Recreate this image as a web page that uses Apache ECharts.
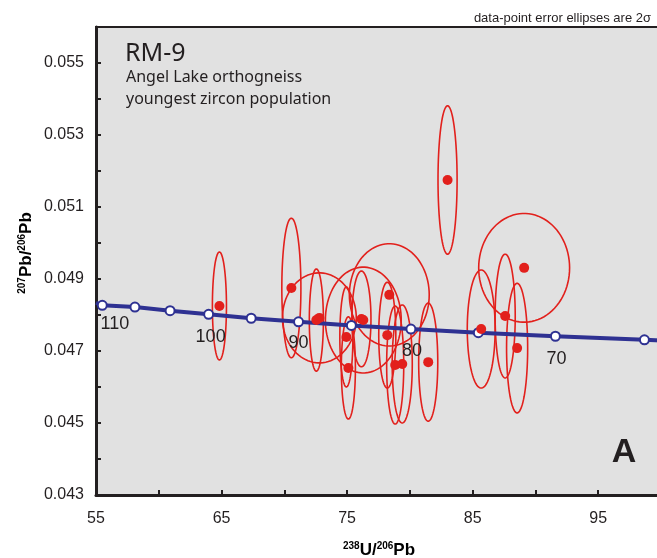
<!DOCTYPE html>
<html>
<head>
<meta charset="utf-8">
<script src="https://cdn.jsdelivr.net/npm/echarts@6/dist/echarts.min.js"></script>
<style>
  html, body { margin: 0; padding: 0; background: #fff; overflow: hidden; }
  /* the plot runs past the right edge of the window, as in the original figure */
  #chart { width: 664px; height: 558px; }
</style>
</head>
<body>
<div id="chart"></div>
<script>
// concordia curve (238U/206Pb vs 207Pb/206Pb)
var curveX = [55, 55.50, 58.10, 60.90, 63.97, 67.36, 71.13, 75.34, 80.08, 85.45, 91.59, 98.68, 100];
var curveY = [0.04834, 0.04827, 0.04822, 0.04812, 0.04802, 0.04791, 0.04781, 0.04771, 0.04761, 0.04751, 0.04741, 0.04731, 0.04729];

// age marks on the concordia (Ma)
var ages = [115, 110, 105, 100, 95, 90, 85, 80, 75, 70, 65];
var ageX = [55.50, 58.10, 60.90, 63.97, 67.36, 71.13, 75.34, 80.08, 85.45, 91.59, 98.68];
var ageY = [0.04827, 0.04822, 0.04812, 0.04802, 0.04791, 0.04781, 0.04771, 0.04761, 0.04751, 0.04741, 0.04731];

// zircon analyses: centre and 2-sigma half axes
var pointsX = [64.83, 70.56, 72.79, 72.55, 76.29, 78.36, 74.94, 75.10, 76.14, 78.20, 78.83, 79.39, 81.46, 85.68, 87.59, 88.54, 89.10, 83.00];
var pointsY = [0.04825, 0.04875, 0.04792, 0.04786, 0.04786, 0.04856, 0.04739, 0.04653, 0.04789, 0.04744, 0.04661, 0.04664, 0.04669, 0.04761, 0.04797, 0.04708, 0.04931, 0.05175];
var errX = [0.56, 0.76, 2.94, 0.56, 3.02, 3.18, 0.52, 0.56, 0.76, 0.68, 0.68, 0.80, 0.76, 1.11, 0.80, 0.84, 3.62, 0.76];
var errY = [0.00150, 0.00194, 0.00125, 0.00142, 0.00147, 0.00142, 0.00139, 0.00142, 0.00133, 0.00147, 0.00164, 0.00164, 0.00164, 0.00164, 0.00172, 0.00180, 0.00151, 0.00206];

var ink = '#231f20';
var red = '#e2201c';
var navy = '#2e3192';
var labelOffset = { 110: [-20, 17], 100: [2, 23], 90: [0, 21], 80: [1, 22], 70: [1, 23] };

var myChart = echarts.init(document.getElementById('chart'));

var ellipseData = pointsX.map(function (x, i) { return [x, pointsY[i], errX[i], errY[i]]; });
var curveData = curveX.map(function (x, i) { return [x, curveY[i]]; });
var ageData = ages.map(function (a, i) {
    var show = a % 10 === 0;
    return {
        value: [ageX[i], ageY[i]],
        name: String(a),
        label: { show: show, offset: show ? labelOffset[a] : [0, 0] }
    };
});
var dotData = pointsX.map(function (x, i) { return [x, pointsY[i]]; });

var supStyle = { fontSize: 10, fontWeight: 'bold', fontFamily: 'Liberation Sans', color: ink, verticalAlign: 'top', lineHeight: 10 };
var mainStyle = { fontSize: 17, fontWeight: 'bold', fontFamily: 'Liberation Sans', color: ink, verticalAlign: 'bottom', lineHeight: 18 };

option = {
    animation: false,
    backgroundColor: '#fff',
    grid: {
        left: 96, top: 27, right: 2, bottom: 63,
        show: true,
        backgroundColor: '#e1e1e1',
        borderColor: ink,
        borderWidth: 2
    },
    xAxis: {
        type: 'value',
        min: 55, max: 100, interval: 5,
        axisLine: { lineStyle: { color: ink, width: 3 } },
        axisTick: { inside: true, length: 5, lineStyle: { color: ink, width: 2 } },
        axisLabel: {
            fontSize: 16, color: ink, fontFamily: 'Liberation Sans', margin: 16,
            formatter: function (v) { return (v - 55) % 10 === 0 ? String(v) : ''; }
        },
        splitLine: { show: false }
    },
    yAxis: {
        type: 'value',
        min: 0.043, max: 0.056, interval: 0.001,
        axisLine: { lineStyle: { color: ink, width: 3 } },
        axisTick: { inside: true, length: 5, lineStyle: { color: ink, width: 2 } },
        axisLabel: {
            fontSize: 16, color: ink, fontFamily: 'Liberation Sans', margin: 12,
            formatter: function (v) { return Math.round(v * 1000) % 2 === 1 ? v.toFixed(3) : ''; }
        },
        splitLine: { show: false }
    },
    graphic: [
        { type: 'text', x: 651, y: 18, z: 10,
          style: { text: 'data-point error ellipses are 2σ', align: 'right', verticalAlign: 'middle', fontSize: 13, fontFamily: 'Liberation Sans', fill: ink } },
        { type: 'text', x: 125, y: 54, z: 10,
          style: { text: 'RM-9', align: 'left', verticalAlign: 'middle', fontSize: 25, fontFamily: 'Noto Sans', fill: ink } },
        { type: 'text', x: 126, y: 77, z: 10,
          style: { text: 'Angel Lake orthogneiss', align: 'left', verticalAlign: 'middle', fontSize: 16, fontFamily: 'Noto Sans', fill: ink } },
        { type: 'text', x: 126, y: 99, z: 10,
          style: { text: 'youngest zircon population', align: 'left', verticalAlign: 'middle', fontSize: 16, fontFamily: 'Noto Sans', fill: ink } },
        { type: 'text', x: 624, y: 453, z: 10,
          style: { text: 'A', align: 'center', verticalAlign: 'middle', fontSize: 34, fontWeight: 'bold', fontFamily: 'Liberation Sans', fill: ink } },
        { type: 'text', x: 379, y: 550, z: 10,
          style: { text: '{s|238}{m|U/}{s|206}{m|Pb}', align: 'center', verticalAlign: 'middle', rich: { s: supStyle, m: mainStyle } } },
        { type: 'text', x: 26, y: 253, rotation: Math.PI / 2, z: 10,
          style: { text: '{s|207}{m|Pb/}{s|206}{m|Pb}', align: 'center', verticalAlign: 'middle', rich: { s: supStyle, m: mainStyle } } }
    ],
    series: [
        {
            name: 'ellipses',
            type: 'custom',
            z: 2,
            data: ellipseData,
            encode: { x: 0, y: 1 },
            renderItem: function (params, api) {
                var c = api.coord([api.value(0), api.value(1)]);
                var s = api.size([api.value(2), api.value(3)]);
                var pts = [];
                for (var k = 0; k < 90; k++) {
                    var a = k / 90 * Math.PI * 2;
                    pts.push([c[0] + s[0] * Math.cos(a), c[1] + s[1] * Math.sin(a)]);
                }
                return {
                    type: 'polygon',
                    shape: { points: pts },
                    style: { fill: 'none', stroke: red, lineWidth: 1.6 }
                };
            }
        },
        {
            name: 'concordia',
            type: 'line',
            z: 3,
            data: curveData,
            showSymbol: false,
            lineStyle: { color: navy, width: 4 }
        },
        {
            name: 'ages',
            type: 'scatter',
            z: 4,
            data: ageData,
            symbolSize: 9,
            itemStyle: { color: '#fff', borderColor: navy, borderWidth: 2, opacity: 1 },
            label: {
                position: 'inside',
                formatter: '{b}',
                fontSize: 18,
                color: ink,
                fontFamily: 'Liberation Sans'
            }
        },
        {
            name: 'analyses',
            type: 'scatter',
            z: 5,
            data: dotData,
            symbolSize: 10,
            itemStyle: { color: red, opacity: 1 }
        }
    ]
};

myChart.setOption(option);
</script>
</body>
</html>
